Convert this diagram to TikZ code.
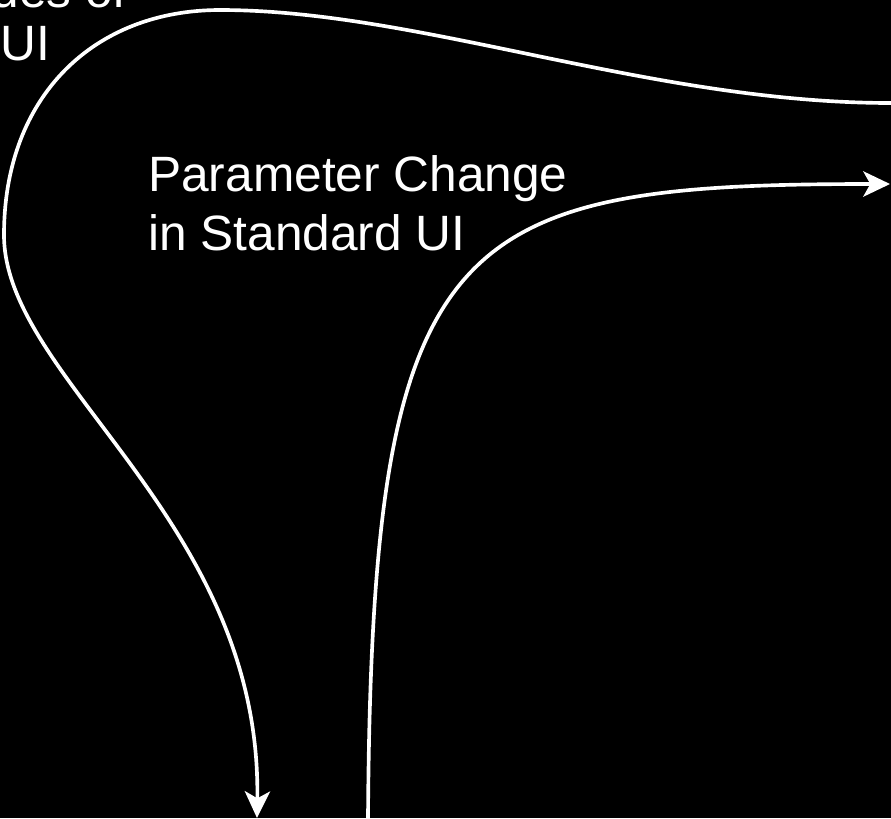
\documentclass[tikz,border=0pt]{standalone}
\usepackage{fontspec}
\setmainfont{Liberation Sans}
\usetikzlibrary{arrows.meta}
\tikzset{
  flow/.style={draw=white, line width=2.6pt,
               -{Stealth[length=19pt, width=18pt, inset=5pt]}},
  caption/.style={text=white, font=\fontsize{35.3}{41.5}\selectfont,
                  align=#1, inner sep=0pt},
  caption/.default=left,
}
\begin{document}
\begin{tikzpicture}[x=0.025cm, y=-0.025cm]

% ── background ────────────────────────────────────────────────────────────────
\fill[black] (0,0) rectangle (891,818);
\useasboundingbox (0,0) rectangle (891,818);

% ── labels (base = last line) ─────────────────────────────────────────────────
\node[caption=center, anchor=base] (values) at (25,60) {Values of\\[-4pt]UI};
\node[caption, anchor=base west] (standard) at (148,250)
  {Parameter Change\\in Standard UI};

% ── curve ends ────────────────────────────────────────────────────────────────
\coordinate (inR)   at (891,103);
\coordinate (crest) at (220,10);
\coordinate (bulge) at (4,235);
\coordinate (outL)  at (257,818);
\coordinate (inB)   at (368,818);
\coordinate (outR)  at (890,184);

% ── loop back down on the left ────────────────────────────────────────────────
\draw[flow] (inR) .. controls (650,103) and (420,10) .. (crest)
  .. controls (95,10) and (4,95) .. (bulge)
  .. controls (4,380) and (262,520) .. (outL);

% ── bend up and out to the right ──────────────────────────────────────────────
\draw[flow] (inB) .. controls (372,230) and (450,184) .. (outR);

\end{tikzpicture}
\end{document}
